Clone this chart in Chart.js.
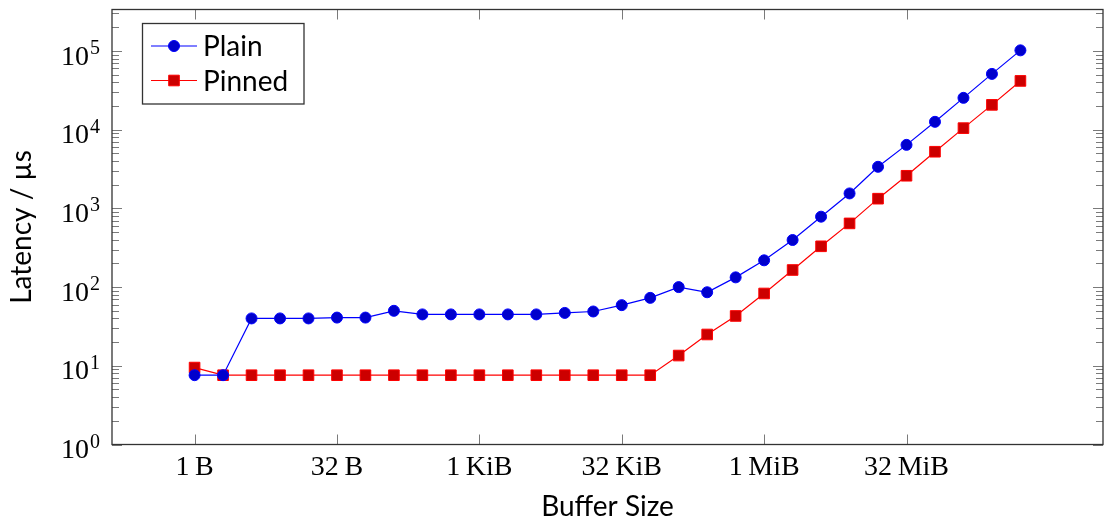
<!DOCTYPE html>
<html>
<head>
<meta charset="utf-8">
<script src="https://cdn.jsdelivr.net/npm/chart.js@4.4.1/dist/chart.umd.min.js"></script>
<style>
  html, body { margin: 0; padding: 0; background: #fff; }
  #wrap { width: 1104px; height: 525px; position: relative; }
</style>
</head>
<body>
<div id="wrap"><canvas id="latency-chart"></canvas></div>
<script>
// buffer size as log2(bytes): 1 B ... 512 MiB
const sizeLog2 = [0, 1, 2, 3, 4, 5, 6, 7, 8, 9, 10, 11, 12, 13, 14, 15, 16, 17, 18, 19, 20, 21, 22, 23, 24, 25, 26, 27, 28, 29];

// latency in microseconds
const plainLatency = [7.6, 7.6, 40, 40, 40, 41, 41, 50, 45, 45, 45, 45, 45, 47, 49, 59, 73, 100, 86, 133, 219, 397, 785, 1550, 3380, 6420, 12600, 25400, 51200, 102000];
const pinnedLatency = [9.5, 7.6, 7.6, 7.6, 7.6, 7.6, 7.6, 7.6, 7.6, 7.6, 7.6, 7.6, 7.6, 7.6, 7.6, 7.6, 7.6, 13.5, 25, 43, 83, 165, 330, 645, 1330, 2600, 5250, 10470, 20700, 41700];

const xTickValues = [0, 5, 10, 15, 20, 25];
const xTickLabels = ["1\u2009B", "32\u2009B", "1\u2009KiB", "32\u2009KiB", "1\u2009MiB", "32\u2009MiB"];
const yDecades = [0, 1, 2, 3, 4, 5];

const serif = "'Liberation Serif', 'DejaVu Serif', serif";
const sans = "Lato, 'Open Sans', sans-serif";

function toPoints(values) {
  return sizeLog2.map((x, i) => ({ x: x, y: values[i] }));
}

// frame, inward ticks, y labels with exponents, boxed legend
const pgfStyle = {
  id: "pgfStyle",
  afterDatasetsDraw(chart) {
    const ctx = chart.ctx;
    const area = chart.chartArea;
    const xs = chart.scales.x;
    const ys = chart.scales.y;

    ctx.save();

    // ticks
    ctx.strokeStyle = "#7a7a7a";
    ctx.lineWidth = 1;
    ctx.beginPath();
    xTickValues.forEach(v => {
      const px = Math.round(xs.getPixelForValue(v)) + 0.5;
      ctx.moveTo(px, area.bottom);
      ctx.lineTo(px, area.bottom - 10);
      ctx.moveTo(px, area.top);
      ctx.lineTo(px, area.top + 10);
    });
    for (let k = 0; k <= 5; k++) {
      for (let m = 1; m <= 9; m++) {
        const val = m * Math.pow(10, k);
        if (val > ys.max) continue;
        const py = Math.round(ys.getPixelForValue(val)) + 0.5;
        const len = m === 1 ? 10 : 7;
        ctx.moveTo(area.left, py);
        ctx.lineTo(area.left + len, py);
        ctx.moveTo(area.right, py);
        ctx.lineTo(area.right - len, py);
      }
    }
    ctx.stroke();

    // frame
    ctx.strokeStyle = "#333";
    ctx.lineWidth = 1.3;
    ctx.strokeRect(area.left, area.top, area.right - area.left, area.bottom - area.top);

    // y tick labels 10^k
    ctx.fillStyle = "#000";
    yDecades.forEach(k => {
      const py = ys.getPixelForValue(Math.pow(10, k));
      ctx.font = "20px " + serif;
      ctx.textAlign = "right";
      ctx.textBaseline = "alphabetic";
      const sup = String(k);
      const supW = ctx.measureText(sup).width;
      ctx.fillText(sup, 100, py + 3);
      ctx.font = "28px " + serif;
      ctx.fillText("10", 100 - supW - 1, py + 13.5);
    });

    // legend
    const lx = 142.5, ly = 23.5, lw = 161.5, lh = 80.5;
    ctx.fillStyle = "#fff";
    ctx.fillRect(lx, ly, lw, lh);
    ctx.strokeStyle = "#333";
    ctx.lineWidth = 1.3;
    ctx.strokeRect(lx, ly, lw, lh);
    const rows = [46, 80.5];
    chart.data.datasets.forEach((ds, i) => {
      const ry = rows[i];
      ctx.strokeStyle = ds.borderColor;
      ctx.lineWidth = ds.borderWidth;
      ctx.beginPath();
      ctx.moveTo(151, ry);
      ctx.lineTo(197, ry);
      ctx.stroke();
      ctx.fillStyle = ds.pointBackgroundColor;
      ctx.strokeStyle = ds.pointBorderColor;
      ctx.lineWidth = 1;
      ctx.beginPath();
      if (ds.pointStyle === "rect") {
        const h = ds.pointRadius * Math.SQRT1_2;
        ctx.rect(174 - h, ry - h, 2 * h, 2 * h);
      } else {
        ctx.arc(174, ry, ds.pointRadius, 0, Math.PI * 2);
      }
      ctx.fill();
      ctx.stroke();
      ctx.fillStyle = "#000";
      ctx.font = "28px " + sans;
      ctx.textAlign = "left";
      ctx.textBaseline = "middle";
      ctx.fillText(ds.label, 203, ry + 1);
    });

    ctx.restore();
  }
};

new Chart(document.getElementById("latency-chart"), {
  type: "line",
  data: {
    datasets: [
      {
        label: "Plain",
        data: toPoints(plainLatency),
        borderColor: "rgb(0,0,255)",
        borderWidth: 1.2,
        pointStyle: "circle",
        pointRadius: 5.5,
        pointBackgroundColor: "rgb(0,0,204)",
        pointBorderColor: "rgb(0,0,255)",
        pointBorderWidth: 1,
        tension: 0
      },
      {
        label: "Pinned",
        data: toPoints(pinnedLatency),
        borderColor: "rgb(255,0,0)",
        borderWidth: 1.2,
        pointStyle: "rect",
        pointRadius: 7.5,
        pointBackgroundColor: "rgb(204,0,0)",
        pointBorderColor: "rgb(255,0,0)",
        pointBorderWidth: 1,
        tension: 0
      }
    ]
  },
  options: {
    responsive: true,
    maintainAspectRatio: false,
    animation: false,
    layout: {
      autoPadding: false,
      padding: { top: 9.5, right: 1, left: 0, bottom: 0 }
    },
    plugins: {
      legend: { display: false },
      tooltip: { enabled: false }
    },
    scales: {
      x: {
        type: "linear",
        min: -2.9,
        max: 31.9,
        grid: { display: false, drawTicks: false },
        border: { display: false },
        afterBuildTicks: scale => {
          scale.ticks = xTickValues.map(v => ({ value: v }));
        },
        afterFit: scale => {
          scale.height = 80.5;
          scale.paddingLeft = 0;
          scale.paddingRight = 0;
        },
        ticks: {
          autoSkip: false,
          maxRotation: 0,
          padding: 6,
          color: "#000",
          font: { family: serif, size: 28 },
          callback: value => xTickLabels[xTickValues.indexOf(value)]
        },
        title: {
          display: true,
          text: "Buffer Size",
          color: "#000",
          font: { family: sans, size: 28 },
          padding: { top: 0, bottom: 1 }
        }
      },
      y: {
        type: "logarithmic",
        min: 1,
        max: 337000,
        grid: { display: false, drawTicks: false },
        border: { display: false },
        afterFit: scale => {
          scale.width = 112;
          scale.paddingTop = 0;
          scale.paddingBottom = 0;
        },
        ticks: { display: false },
        title: {
          display: true,
          text: "Latency / µs",
          color: "#000",
          font: { family: sans, size: 28 },
          padding: { top: 5, bottom: 0 }
        }
      }
    }
  },
  plugins: [pgfStyle]
});
</script>
</body>
</html>
